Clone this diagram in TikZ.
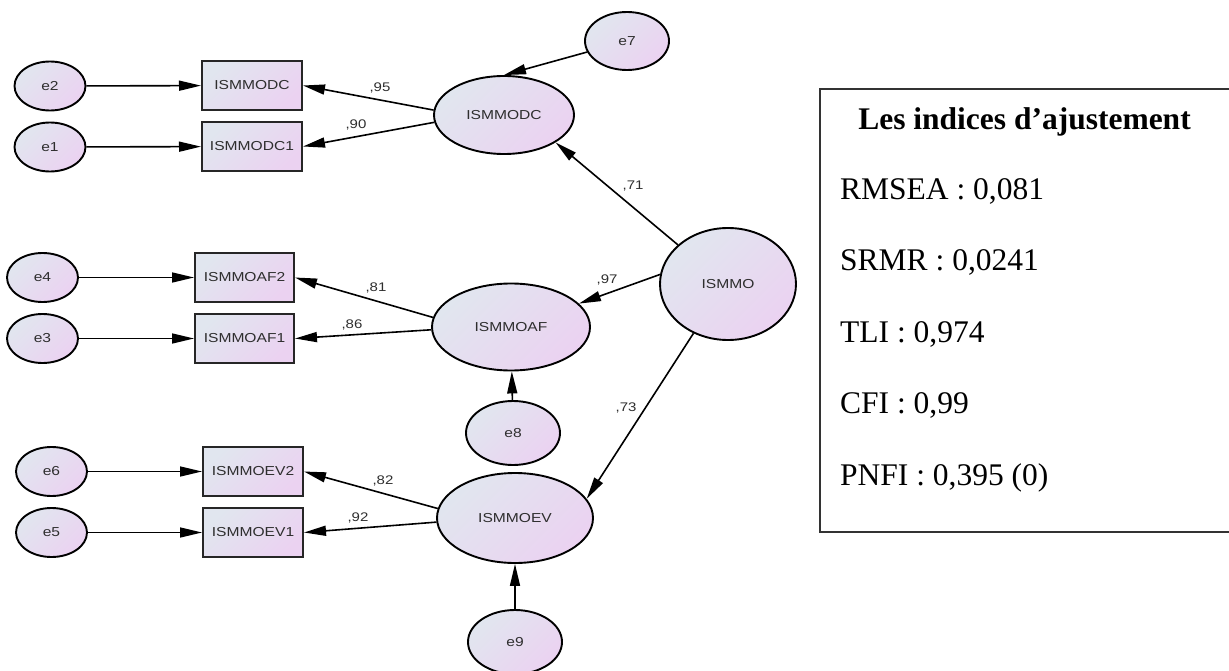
\documentclass[tikz,border=0pt]{standalone}
\usepackage{fontspec}
\setmainfont{Liberation Serif}
\newfontfamily\amos[FakeStretch=1.2]{Liberation Sans}
\usetikzlibrary{shapes.geometric,arrows.meta}
\definecolor{cA}{HTML}{E1E6EF}
\definecolor{cB}{HTML}{EBD2F1}
\definecolor{txt}{HTML}{2E2E2E}
\begin{document}
\begin{tikzpicture}[x=1pt,y=-1pt,
  shadefill/.style={top color=cA,bottom color=cB,shading angle=45},
  lat/.style={ellipse,draw=black,line width=1.9pt,shadefill,inner sep=0pt,
    font=\amos\fontsize{13}{15}\selectfont,text=txt},
  obs/.style={rectangle,draw=black!85,line width=2pt,shadefill,inner sep=0pt,
    minimum width=100pt,minimum height=49pt,
    font=\amos\fontsize{13}{15}\selectfont,text=txt},
  err/.style={lat,minimum width=71pt,minimum height=49pt},
  arr/.style={line width=1.6pt,-{Triangle[length=22pt,width=10pt]}},
  coef/.style={font=\amos\fontsize{12.5}{14}\selectfont,text=txt,inner sep=0pt},
  idxtext/.style={font=\fontsize{31.5}{36}\selectfont,anchor=base west,inner sep=0pt}]
\useasboundingbox (0,0) rectangle (1229,671);
% error terms for indicators
\node[err] (e2) at (50,86) {e2};
\node[err] (e1) at (50,147) {e1};
\node[err] (e4) at (42.5,277.5) {e4};
\node[err] (e3) at (42.5,338.5) {e3};
\node[err] (e6) at (51.5,471.5) {e6};
\node[err] (e5) at (51.5,532.5) {e5};
% indicators
\node[obs] (bdc) at (252,85.5) {ISMMODC};
\node[obs] (bdc1) at (252,146.5) {ISMMODC1};
\node[obs,minimum width=99pt] (baf2) at (244.5,277.5) {ISMMOAF2};
\node[obs,minimum width=99pt] (baf1) at (244.5,338.5) {ISMMOAF1};
\node[obs] (bev2) at (253,471.5) {ISMMOEV2};
\node[obs] (bev1) at (253,532.5) {ISMMOEV1};
% latent variables
\node[lat,minimum width=140pt,minimum height=78pt] (dc) at (504,115) {ISMMODC};
\node[lat,minimum width=158pt,minimum height=87pt] (af) at (511,327) {ISMMOAF};
\node[lat,minimum width=156pt,minimum height=90pt] (ev) at (515,518) {ISMMOEV};
\node[lat,minimum width=136pt,minimum height=112pt] (mo) at (728,284) {ISMMO};
% disturbances
\node[lat,minimum width=84pt,minimum height=58pt] (e7) at (627,41) {e7};
\node[lat,minimum width=94pt,minimum height=64pt] (e8) at (513,433) {e8};
\node[lat,minimum width=94pt,minimum height=64pt] (e9) at (515,642) {e9};
% error arrows
\draw[arr] (e2) -- (bdc);
\draw[arr] (e1) -- (bdc1);
\draw[arr] (e4) -- (baf2);
\draw[arr] (e3) -- (baf1);
\draw[arr] (e6) -- (bev2);
\draw[arr] (e5) -- (bev1);
\draw[arr] (e7) -- (dc.north);
\draw[arr] (e8) -- (af);
\draw[arr] (e9) -- (ev);
% loadings
\draw[arr] (dc.176) -- (bdc.east);
\draw[arr] (dc.186) -- (bdc1.east);
\draw[arr] (af.173) -- (baf2.east);
\draw[arr] (af.182) -- (baf1.east);
\draw[arr] (ev.173) -- (bev2.east);
\draw[arr] (ev.183) -- (bev1.east);
\draw[arr] (mo.142) -- (dc.332);
\draw[arr] (mo.172) -- (af.19);
\draw[arr] (mo.235) -- (ev.15);
% coefficients
\node[coef] (l95) at (380,88) {,95};
\node[coef] (l90) at (356,125) {,90};
\node[coef] (l81) at (376,288) {,81};
\node[coef] (l86) at (352,325) {,86};
\node[coef] (l82) at (383,481) {,82};
\node[coef] (l92) at (358,518) {,92};
\node[coef] (l71) at (633,186) {,71};
\node[coef] (l97) at (607,280) {,97};
\node[coef] (l73) at (626,408) {,73};
% fit indices box
\node[draw=black!80,line width=1.6pt,anchor=north west,minimum width=430pt,minimum height=443pt,inner sep=0pt] (idx) at (819,88) {};
\node[font=\bfseries\fontsize{31.5}{36}\selectfont,anchor=base,inner sep=0pt] (title) at (1024.5,130) {Les indices d’ajustement};
\node[idxtext] (rmsea) at (840,200) {RMSEA : 0,081};
\node[idxtext] (srmr) at (840,270) {SRMR : 0,0241};
\node[idxtext] (tli) at (840,342) {TLI : 0,974};
\node[idxtext] (cfi) at (840,413) {CFI : 0,99};
\node[idxtext] (pnfi) at (840,485) {PNFI : 0,395 (0)};
\end{tikzpicture}
\end{document}
